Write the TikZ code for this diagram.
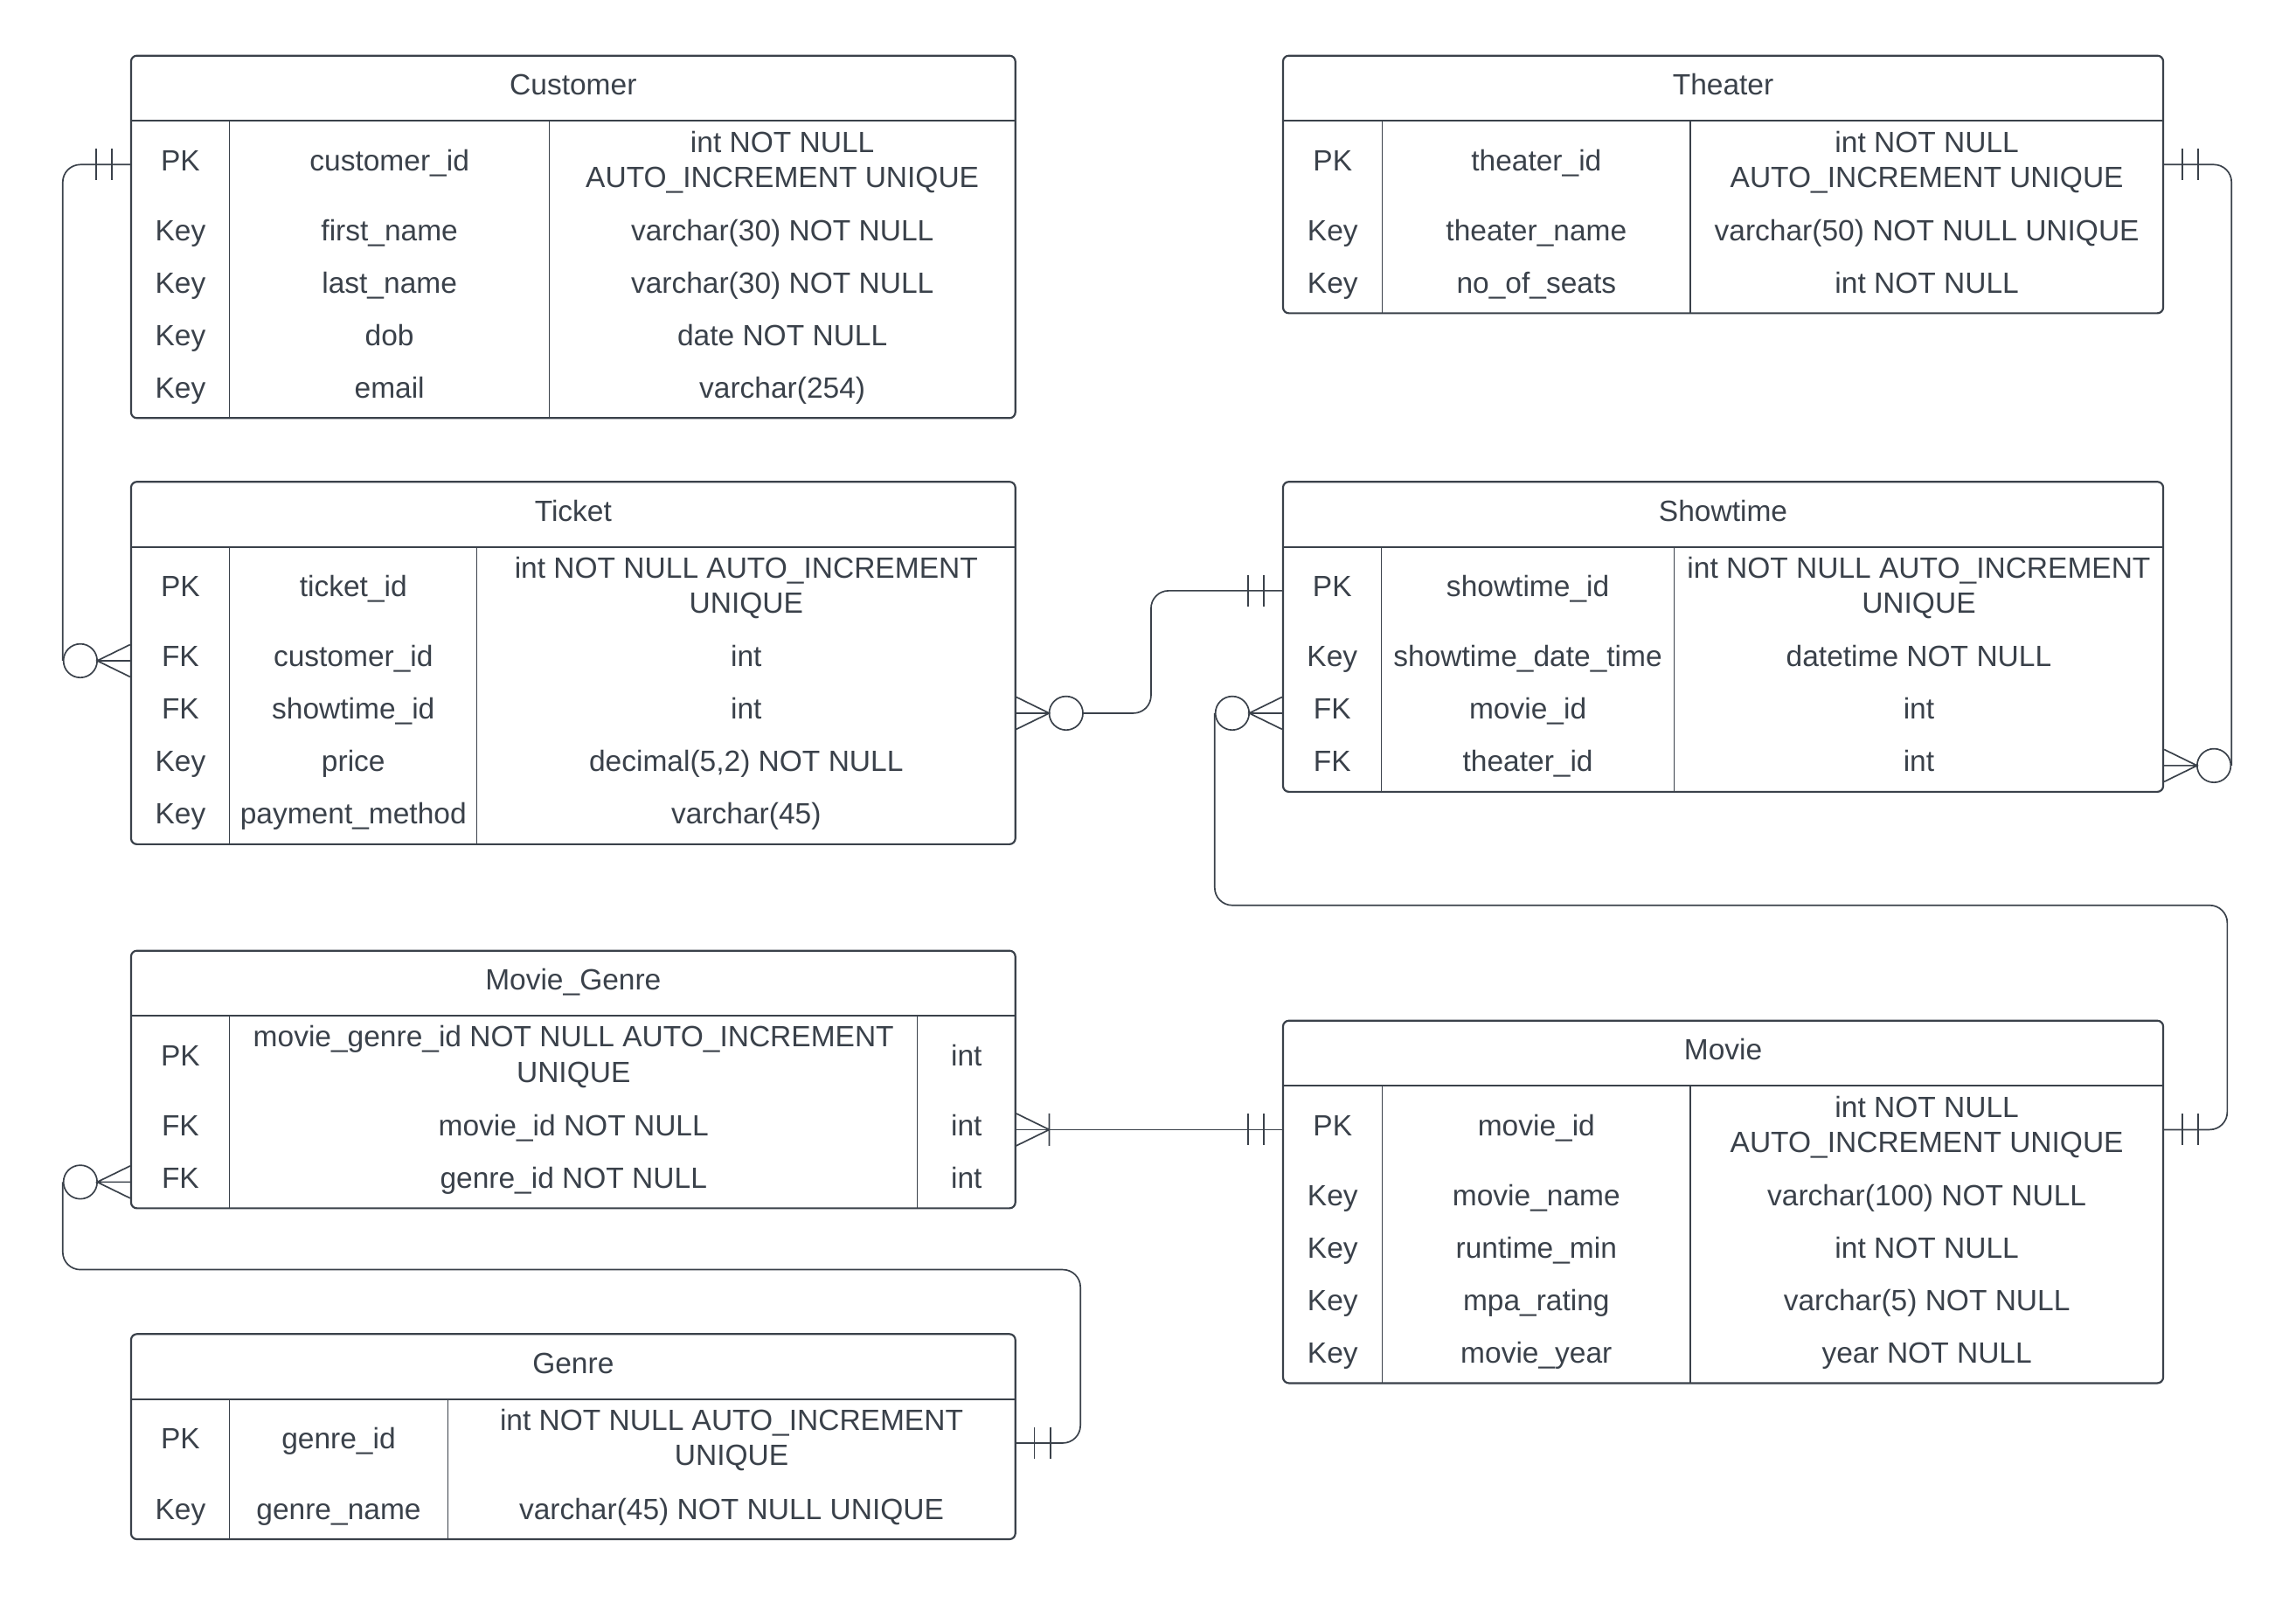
\documentclass[tikz,border=0pt]{standalone}
\usepackage{fontspec}
\setmainfont{Liberation Sans}
\usepackage{tikz}
\usetikzlibrary{fit}
\definecolor{erdark}{HTML}{3A414A}

\begin{document}
\begin{tikzpicture}[x=0.5pt, y=-0.5pt,
		every node/.style={font=\fontsize{10pt}{12pt}\selectfont, text=erdark},
		tablebox/.style={draw=erdark, line width=0.65pt, rounded corners=2pt, inner sep=0pt},
		headline/.style={draw=erdark, line width=0.65pt},
		colline/.style={draw=erdark, line width=0.45pt},
		celltext/.style={inner sep=0pt, text height=7.5pt, text depth=3.3pt},
		twoline/.style={inner sep=0pt, align=center},
		conn/.style={draw=erdark, line width=0.5pt, rounded corners=6pt},
		erend/.style={draw=erdark, line width=0.5pt},
		ocircle/.style={circle, draw=erdark, line width=0.5pt, minimum size=11.5pt, inner sep=0pt}]
		\fill[white] (0,0) rectangle (1568,1104);
		\useasboundingbox (0,0) rectangle (1568,1104);
		
		% table frame: name, left, right, top, col1, col2, rows, title
		\def\ertable#1#2#3#4#5#6#7#8{%
			\node[tablebox, fit={(#2,#4) (#3,#4+104.3+35.8*#7)}] (#1) {};
			\node[celltext] (#1-title) at ({(#2+#3)/2},#4+22.6) {#8};
			\draw[headline] (#2,#4+44.5) -- (#3,#4+44.5);
			\draw[colline] (#5,#4+44.5) -- (#5,#4+104.3+35.8*#7) (#6,#4+44.5) -- (#6,#4+104.3+35.8*#7);}
		% line ends
		\def\onebars#1#2{%
			\begin{scope}[shift={(#1)}, xscale=#2]
				\draw[erend] (12.3,-10.7) -- (12.3,10.7) (23.3,-10.7) -- (23.3,10.7);
			\end{scope}}
		\def\onemany#1#2{%
			\begin{scope}[shift={(#1)}, xscale=#2]
				\draw[erend] (0,-11) -- (22.5,0) -- (0,11) (22.5,-11) -- (22.5,11);
			\end{scope}}
		\def\zeromany#1#2#3{%
			\begin{scope}[shift={(#1)}, xscale=#2]
				\draw[erend] (0,-11) -- (22.5,0) -- (0,11) (0,0) -- (22.5,0);
			\end{scope}
			\node[ocircle] (#3) at ([xshift=#2*17pt]#1) {};}
		
		% Customer
		\ertable{customer}{89.5}{693.4}{38}{156.8}{375.2}{4}{Customer}
		\node[celltext] (customer-pk) at (123.2,112.4) {PK};
		\node[celltext] (customer-pkn) at (266,112.4) {customer\_id};
		\node[twoline] (customer-pkt) at (534.3,110.9) {int NOT NULL\\AUTO\_INCREMENT UNIQUE};
		\foreach \kk/\nm/\ty [count=\i] in {Key/first\_name/varchar(30) NOT NULL, Key/last\_name/varchar(30) NOT NULL, Key/dob/date NOT NULL, Key/email/varchar(254)}{
			\node[celltext] (customer-k\i) at (123.2,124.4+35.8*\i) {\kk};
			\node[celltext] (customer-n\i) at (266,124.4+35.8*\i) {\nm};
			\node[celltext] (customer-t\i) at (534.3,124.4+35.8*\i) {\ty};
		}
		
		% Theater
		\ertable{theater}{876.2}{1477.3}{38}{944}{1154.4}{2}{Theater}
		\node[celltext] (theater-pk) at (910.1,112.4) {PK};
		\node[celltext] (theater-pkn) at (1049.2,112.4) {theater\_id};
		\node[twoline] (theater-pkt) at (1315.9,110.9) {int NOT NULL\\AUTO\_INCREMENT UNIQUE};
		\foreach \kk/\nm/\ty [count=\i] in {Key/theater\_name/varchar(50) NOT NULL UNIQUE, Key/no\_of\_seats/int NOT NULL}{
			\node[celltext] (theater-k\i) at (910.1,124.4+35.8*\i) {\kk};
			\node[celltext] (theater-n\i) at (1049.2,124.4+35.8*\i) {\nm};
			\node[celltext] (theater-t\i) at (1315.9,124.4+35.8*\i) {\ty};
		}
		
		% Ticket
		\ertable{ticket}{89.5}{693.4}{329}{156.8}{325.7}{4}{Ticket}
		\node[celltext] (ticket-pk) at (123.2,403.4) {PK};
		\node[celltext] (ticket-pkn) at (241.3,403.4) {ticket\_id};
		\node[twoline] (ticket-pkt) at (509.6,401.4) {int NOT NULL AUTO\_INCREMENT\\UNIQUE};
		\foreach \kk/\nm/\ty [count=\i] in {FK/customer\_id/int, FK/showtime\_id/int, Key/price/{decimal(5,2) NOT NULL}, Key/payment\_method/varchar(45)}{
			\node[celltext] (ticket-k\i) at (123.2,415.4+35.8*\i) {\kk};
			\node[celltext] (ticket-n\i) at (241.3,415.4+35.8*\i) {\nm};
			\node[celltext] (ticket-t\i) at (509.6,415.4+35.8*\i) {\ty};
		}
		
		% Showtime
		\ertable{showtime}{876.2}{1477.3}{329}{943.4}{1143.4}{3}{Showtime}
		\node[celltext] (showtime-pk) at (909.8,403.4) {PK};
		\node[celltext] (showtime-pkn) at (1043.4,403.4) {showtime\_id};
		\node[twoline] (showtime-pkt) at (1310.4,401.4) {int NOT NULL AUTO\_INCREMENT\\UNIQUE};
		\foreach \kk/\nm/\ty [count=\i] in {Key/showtime\_date\_time/datetime NOT NULL, FK/movie\_id/int, FK/theater\_id/int}{
			\node[celltext] (showtime-k\i) at (909.8,415.4+35.8*\i) {\kk};
			\node[celltext] (showtime-n\i) at (1043.4,415.4+35.8*\i) {\nm};
			\node[celltext] (showtime-t\i) at (1310.4,415.4+35.8*\i) {\ty};
		}
		
		% Movie_Genre
		\ertable{moviegenre}{89.5}{693.4}{649.2}{156.8}{626.5}{2}{Movie\_Genre}
		\node[celltext] (moviegenre-pk) at (123.2,723.6) {PK};
		\node[twoline] (moviegenre-pkn) at (391.7,721.6) {movie\_genre\_id NOT NULL AUTO\_INCREMENT\\UNIQUE};
		\node[celltext] (moviegenre-pkt) at (660,723.6) {int};
		\foreach \kk/\nm/\ty [count=\i] in {FK/movie\_id NOT NULL/int, FK/genre\_id NOT NULL/int}{
			\node[celltext] (moviegenre-k\i) at (123.2,735.6+35.8*\i) {\kk};
			\node[celltext] (moviegenre-n\i) at (391.7,735.6+35.8*\i) {\nm};
			\node[celltext] (moviegenre-t\i) at (660,735.6+35.8*\i) {\ty};
		}
		
		% Genre
		\ertable{genre}{89.5}{693.4}{911}{156.8}{305.8}{1}{Genre}
		\node[celltext] (genre-pk) at (123.2,985.4) {PK};
		\node[celltext] (genre-pkn) at (231.3,985.4) {genre\_id};
		\node[twoline] (genre-pkt) at (499.6,983.4) {int NOT NULL AUTO\_INCREMENT\\UNIQUE};
		\node[celltext] (genre-k1) at (123.2,1033.2) {Key};
		\node[celltext] (genre-n1) at (231.3,1033.2) {genre\_name};
		\node[celltext] (genre-t1) at (499.6,1033.2) {varchar(45) NOT NULL UNIQUE};
		
		% Movie
		\ertable{movie}{876.2}{1477.3}{697}{944}{1154.4}{4}{Movie}
		\node[celltext] (movie-pk) at (910.1,771.4) {PK};
		\node[celltext] (movie-pkn) at (1049.2,771.4) {movie\_id};
		\node[twoline] (movie-pkt) at (1315.9,769.9) {int NOT NULL\\AUTO\_INCREMENT UNIQUE};
		\foreach \kk/\nm/\ty [count=\i] in {Key/movie\_name/varchar(100) NOT NULL, Key/runtime\_min/int NOT NULL, Key/mpa\_rating/varchar(5) NOT NULL, Key/movie\_year/year NOT NULL}{
			\node[celltext] (movie-k\i) at (910.1,783.4+35.8*\i) {\kk};
			\node[celltext] (movie-n\i) at (1049.2,783.4+35.8*\i) {\nm};
			\node[celltext] (movie-t\i) at (1315.9,783.4+35.8*\i) {\ty};
		}
		
		% Attach points on the table edges
		\coordinate (customer-pk-w) at (customer.west |- customer-pk);
		\coordinate (ticket-k1-w) at (ticket.west |- ticket-k1);
		\coordinate (ticket-k2-e) at (ticket.east |- ticket-k2);
		\coordinate (showtime-pk-w) at (showtime.west |- showtime-pk);
		\coordinate (showtime-k2-w) at (showtime.west |- showtime-k2);
		\coordinate (showtime-k3-e) at (showtime.east |- showtime-k3);
		\coordinate (theater-pk-e) at (theater.east |- theater-pk);
		\coordinate (movie-pk-w) at (movie.west |- movie-pk);
		\coordinate (movie-pk-e) at (movie.east |- movie-pk);
		\coordinate (moviegenre-k1-e) at (moviegenre.east |- moviegenre-k1);
		\coordinate (moviegenre-k2-w) at (moviegenre.west |- moviegenre-k2);
		\coordinate (genre-pk-e) at (genre.east |- genre-pk);
		
		% Customer -- Ticket
		\onebars{customer-pk-w}{-1}
		\zeromany{ticket-k1-w}{-1}{ticket-o1}
		\draw[conn] (customer-pk-w) -| (ticket-o1.west);
		
		% Ticket -- Showtime
		\zeromany{ticket-k2-e}{1}{ticket-o2}
		\onebars{showtime-pk-w}{-1}
		\draw[conn] (ticket-o2.east) -- ++(46,0) |- (showtime-pk-w);
		
		% Showtime -- Movie
		\zeromany{showtime-k2-w}{-1}{showtime-o2}
		\onebars{movie-pk-e}{1}
		\draw[conn] (showtime-o2.west) |- ++(691.5,131.2) |- (movie-pk-e);
		
		% Theater -- Showtime
		\onebars{theater-pk-e}{1}
		\zeromany{showtime-k3-e}{1}{showtime-o3}
		\draw[conn] (theater-pk-e) -| (showtime-o3.east);
		
		% Movie_Genre -- Movie
		\onemany{moviegenre-k1-e}{1}
		\onebars{movie-pk-w}{-1}
		\draw[conn] (moviegenre-k1-e) -- (movie-pk-w);
		
		% Movie_Genre -- Genre
		\zeromany{moviegenre-k2-w}{-1}{moviegenre-o2}
		\onebars{genre-pk-e}{1}
		\draw[conn] (moviegenre-o2.west) |- ++(695,59.8) |- (genre-pk-e);
	\end{tikzpicture}
\end{document}
